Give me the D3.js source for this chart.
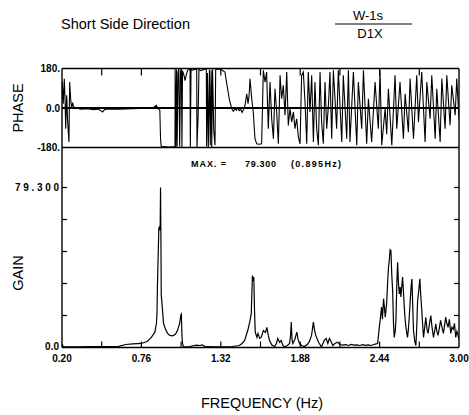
<!DOCTYPE html>
<html><head><meta charset="utf-8">
<script src="https://cdn.jsdelivr.net/npm/d3@7"></script>
<style>body{margin:0;background:#fff}svg{display:block}text{font-family:Arial,"Liberation Sans",sans-serif;fill:#000}</style>
</head><body><svg id="c" width="469" height="415"></svg>
<script>
const xTicks = [0.20, 0.76, 1.32, 1.88, 2.44, 3.00];
const xTickLabels = ["0.20","0.76","1.32","1.88","2.44","3.00"];
const xMinorTicks = [0.48, 0.76, 1.04, 1.32, 1.60, 1.88, 2.16, 2.44, 2.72];
const phaseTicks = [180, 0, -180];
const phaseTickLabels = ["180.", "0.0", "-180."];
const gainMax = 79.3;
const gainMaxFreq = 0.895;

const gainFreq = [0.200,0.203,0.207,0.215,0.30,0.40,0.50,0.60,0.65,0.70,0.76,0.80,0.83,0.855,0.866,0.870,0.873,0.878,0.883,0.888,0.892,0.895,0.898,0.900,0.905,0.916,0.93,0.945,0.96,0.98,1.00,1.015,1.03,1.038,1.042,1.046,1.05,1.056,1.07,1.10,1.148,1.17,1.19,1.21,1.30,1.40,1.45,1.47,1.488,1.51,1.525,1.535,1.543,1.548,1.553,1.558,1.563,1.575,1.582,1.595,1.605,1.62,1.635,1.645,1.655,1.664,1.68,1.70,1.712,1.722,1.735,1.746,1.758,1.77,1.79,1.805,1.812,1.817,1.822,1.828,1.842,1.856,1.865,1.875,1.89,1.91,1.93,1.945,1.96,1.968,1.973,1.98,1.99,2.01,2.03,2.05,2.063,2.075,2.086,2.098,2.109,2.125,2.145,2.16,2.18,2.20,2.22,2.24,2.26,2.28,2.30,2.32,2.34,2.36,2.38,2.40,2.415,2.426,2.438,2.446,2.454,2.46,2.468,2.474,2.48,2.49,2.497,2.503,2.508,2.514,2.52,2.526,2.532,2.538,2.543,2.55,2.555,2.561,2.567,2.573,2.579,2.585,2.59,2.596,2.602,2.608,2.614,2.62,2.626,2.632,2.637,2.643,2.649,2.655,2.662,2.668,2.674,2.679,2.688,2.696,2.702,2.708,2.716,2.724,2.73,2.736,2.743,2.75,2.758,2.766,2.774,2.782,2.79,2.801,2.81,2.82,2.828,2.836,2.844,2.852,2.86,2.87,2.88,2.89,2.898,2.906,2.914,2.923,2.932,2.942,2.95,2.96,2.968,2.977,2.985,2.99,3.00];
const gainVal = [0.3,1.5,0.5,0.4,0.3,0.4,0.5,0.6,1.5,1.8,2.0,3.0,5.0,7.6,12,17,30,45,59,60,58,79.3,50,26,22,12,9,7,6,5.8,6.5,8.5,12,16,16.5,6,2,0.5,0.3,0.5,1.2,1.0,1.3,0.4,0.3,0.5,1.0,2.0,3.5,8.4,13,16.8,35.7,33,34.9,18,7.6,5,6.9,4.5,5,8.4,7.5,10,6,3.5,1.2,0.5,2,4.5,2.5,3.5,1,0.3,1,2,6,12.6,4,2,4,7.6,4,2,1,0.5,1.5,3,6,10,12.6,9,6,2.5,0.3,3.5,4.5,2,4.5,3,1,2,2.6,1.5,1.2,1.4,1.0,1.5,1.2,1.3,1.0,1.4,1.1,1.3,1.0,1.5,1.8,2,10,15,20,14,24.3,20,15,22,33,40,43,48.5,48,36,28,12,5,8,13.4,30,42.3,32,26.6,30,25,30,34.9,28,20,14,10,7,5,9,15,22,30,34,20,8.4,3,1,10,23.3,28,34,26,20,12,5,10,15,9,7,11,15.8,10,5,8,11.7,8,6,9,13.4,10,7,11,15,12,10,14,7,10,9,12,5,8,7,4];

const phaseFreq = [0.200,0.202,0.209,0.216,0.222,0.226,0.233,0.240,0.249,0.254,0.261,0.268,0.275,0.280,0.292,0.304,0.33,0.38,0.42,0.45,0.47,0.485,0.50,0.52,0.55,0.60,0.65,0.70,0.75,0.80,0.84,0.866,0.875,0.89,0.895,0.90,0.92,0.95,0.98,0.997,0.998,1.003,1.008,1.012,1.018,1.024,1.030,1.036,1.042,1.046,1.050,1.060,1.068,1.076,1.085,1.095,1.103,1.105,1.110,1.120,1.135,1.150,1.152,1.160,1.166,1.180,1.200,1.218,1.220,1.226,1.232,1.240,1.246,1.252,1.256,1.262,1.270,1.279,1.284,1.300,1.314,1.330,1.349,1.365,1.380,1.397,1.408,1.42,1.43,1.44,1.45,1.46,1.47,1.48,1.49,1.503,1.512,1.520,1.526,1.538,1.549,1.561,1.573,1.590,1.608,1.620,1.632,1.643,1.655,1.667,1.679,1.691,1.702,1.714,1.726,1.738,1.749,1.761,1.773,1.785,1.796,1.808,1.820,1.832,1.843,1.855,1.867,1.879,1.890,1.902,1.914,1.926,1.937,1.949,1.961,1.973,1.984,1.996,2.008,2.020,2.031,2.043,2.055,2.067,2.079,2.090,2.102,2.114,2.137,2.149,2.173,2.184,2.208,2.220,2.231,2.255,2.279,2.290,2.314,2.326,2.349,2.361,2.384,2.408,2.431,2.443,2.455,2.479,2.490,2.502,2.526,2.549,2.561,2.584,2.608,2.620,2.643,2.655,2.679,2.702,2.714,2.737,2.761,2.773,2.796,2.808,2.832,2.843,2.867,2.879,2.902,2.914,2.937,2.949,2.973,2.984,3.000];
const phaseVal = [40,118,20,133,30,-94,58,-64,-155,118,42,-3,25,10,-3,0,-5,-3,-8,-5,-10,-18,-8,-4,-6,-5,-4,-3,-2,-2,0,12,-2,-10,-140,-178,-176,-178,-177,-178,178,-178,175,-176,160,178,-175,165,178,-178,170,150,125,150,172,176,178,-178,176,172,176,178,-178,-40,176,170,176,178,-176,160,-178,175,-170,172,-178,176,-100,-170,176,178,176,172,164,100,40,-3,-15,-5,-10,0,-12,-5,-20,-8,10,65,20,60,133,42,-18,-140,-163,-165,-163,172,118,164,-94,118,-49,-140,88,-18,-163,149,42,103,-33,164,-79,-3,-64,-18,-94,-49,-132,-163,149,164,27,-163,164,-18,149,-155,118,-94,-170,164,-64,-163,118,-94,12,164,-140,172,-94,172,-155,149,-140,172,-155,164,-170,118,-94,172,-163,42,-155,118,-94,172,-170,-3,-120,88,-170,149,-94,118,-140,65,-110,134,-140,149,-64,164,-155,118,-49,149,-140,88,-155,134,-94,149,-79,103,-33,134,-49];

const svg = d3.select("#c");
const L = 62, R = 459;
const pTop = 68.5, pBot = 147.5, gBot = 347.5;

const x = d3.scaleLinear().domain([0.2, 3.0]).range([L, R]);
const yP = d3.scaleLinear().domain([-180, 180]).range([pBot, pTop]);
const yG = d3.scaleLinear().domain([0, gainMax * 1.25]).range([gBot, pBot]);

svg.append("defs").html(
  `<clipPath id="cp"><rect x="${L}" y="${pTop}" width="${R-L}" height="${pBot-pTop}"/></clipPath>` +
  `<clipPath id="cg"><rect x="${L}" y="${pBot}" width="${R-L}" height="${gBot-pBot}"/></clipPath>`);

// Titles
svg.append("text").attr("x", 61).attr("y", 28.5).attr("font-size", 14.5).text("Short Side Direction");
svg.append("text").attr("x", 368).attr("y", 19.5).attr("font-size", 13).attr("text-anchor", "middle").text("W-1s");
svg.append("line").attr("x1", 335).attr("x2", 412).attr("y1", 24).attr("y2", 24).attr("stroke", "#000").attr("stroke-width", 1.2);
svg.append("text").attr("x", 370).attr("y", 38).attr("font-size", 13).attr("text-anchor", "middle").text("D1X");

// Phase line
svg.append("path").datum(phaseFreq.map((f, i) => [f, phaseVal[i]]))
  .attr("clip-path", "url(#cp)")
  .attr("fill", "none").attr("stroke", "#000").attr("stroke-width", 1.1)
  .attr("d", d3.line().x(d => x(d[0])).y(d => yP(d[1])));

// Gain line
svg.append("path").datum(gainFreq.map((f, i) => [f, gainVal[i]]))
  .attr("clip-path", "url(#cg)")
  .attr("fill", "none").attr("stroke", "#000").attr("stroke-width", 1.2)
  .attr("d", d3.line().x(d => x(d[0])).y(d => yG(d[1])));

// Frames
const g = svg.append("g").attr("stroke", "#000").attr("fill", "none");
g.append("line").attr("x1", L).attr("x2", R).attr("y1", pTop).attr("y2", pTop).attr("stroke-width", 1.6);
g.append("line").attr("x1", L).attr("x2", R).attr("y1", yP(0)).attr("y2", yP(0)).attr("stroke-width", 1.8);
g.append("line").attr("x1", L).attr("x2", R).attr("y1", pBot).attr("y2", pBot).attr("stroke-width", 1.6);
g.append("line").attr("x1", L).attr("x2", R).attr("y1", gBot).attr("y2", gBot).attr("stroke-width", 1.6);
g.append("line").attr("x1", L).attr("x2", L).attr("y1", pTop).attr("y2", gBot).attr("stroke-width", 1.4);
g.append("line").attr("x1", R).attr("x2", R).attr("y1", pTop).attr("y2", gBot).attr("stroke-width", 1.4);

// Minor x ticks (inward) at top of phase and bottom of gain
xMinorTicks.forEach(f => {
  g.append("line").attr("x1", x(f)).attr("x2", x(f)).attr("y1", pTop).attr("y2", pTop + 7).attr("stroke-width", 1.2);
  g.append("line").attr("x1", x(f)).attr("x2", x(f)).attr("y1", gBot).attr("y2", gBot - 6).attr("stroke-width", 1.2);
});
// Gain y ticks (inward, both sides)
d3.range(1, 6).map(k => k * gainMax / 5).forEach(v => {
  g.append("line").attr("x1", L).attr("x2", L + 5).attr("y1", yG(v)).attr("y2", yG(v)).attr("stroke-width", 1.2);
  g.append("line").attr("x1", R - 5).attr("x2", R).attr("y1", yG(v)).attr("y2", yG(v)).attr("stroke-width", 1.2);
});

// Axis labels
const lab = svg.append("g").attr("font-size", 10).attr("font-weight", "bold");
phaseTicks.forEach((v, i) => {
  lab.append("text").attr("x", 60).attr("y", yP(v) + 3.5).attr("text-anchor", "end").text(phaseTickLabels[i]);
});
lab.append("text").attr("x", 59).attr("y", yG(gainMax) + 3.5).attr("text-anchor", "end")
  .attr("textLength", 44).text(gainMax.toFixed(3));
lab.append("text").attr("x", 59).attr("y", yG(0) + 2).attr("text-anchor", "end").text("0.0");
xTicks.forEach((v, i) => {
  lab.append("text").attr("x", x(v)).attr("y", 362).attr("text-anchor", "middle").text(xTickLabels[i]);
});

// MAX annotation
const mx = svg.append("g").attr("font-size", 9).attr("font-weight", "bold");
mx.append("text").attr("x", 191).attr("y", 167).attr("textLength", 35).text("MAX. =");
mx.append("text").attr("x", 245).attr("y", 167).attr("textLength", 31).text(gainMax.toFixed(3));
mx.append("text").attr("x", 291).attr("y", 167).attr("textLength", 50).text("(" + gainMaxFreq.toFixed(3) + "Hz)");

// Axis titles
svg.append("text").attr("font-size", 14.5).attr("text-anchor", "middle")
  .attr("transform", `translate(23,${yP(0)}) rotate(-90)`).text("PHASE");
svg.append("text").attr("font-size", 14.5).attr("text-anchor", "middle")
  .attr("transform", `translate(23,273) rotate(-90)`).text("GAIN");
svg.append("text").attr("font-size", 14.5).attr("text-anchor", "middle")
  .attr("x", 262).attr("y", 408).text("FREQUENCY (Hz)");
</script></body></html>
